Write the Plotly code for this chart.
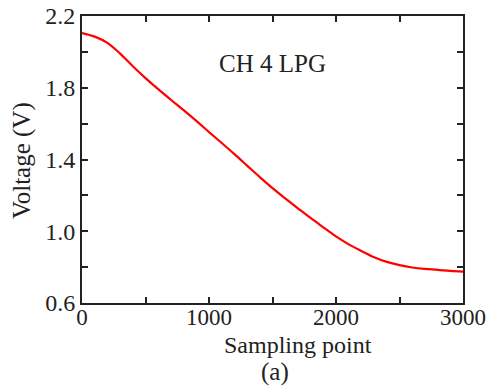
import plotly.graph_objects as go

sampling_point = [0, 100, 200, 300, 400, 500, 600, 700, 800, 900, 1000,
                  1100, 1200, 1300, 1400, 1500, 1600, 1700, 1800, 1900, 2000,
                  2100, 2200, 2300, 2400, 2500, 2600, 2700, 2800, 2900, 3000]
voltage = [2.105, 2.085, 2.050, 1.990, 1.920, 1.854, 1.792, 1.733, 1.675, 1.615, 1.553,
           1.492, 1.430, 1.366, 1.302, 1.240, 1.183, 1.128, 1.075, 1.022, 0.971,
           0.927, 0.890, 0.855, 0.829, 0.811, 0.798, 0.790, 0.785, 0.779, 0.775]

x_ticks = [0, 1000, 2000, 3000]
y_ticks = [0.6, 1.0, 1.4, 1.8, 2.2]
y_tick_labels = ["0.6", "1.0", "1.4", "1.8", "2.2"]

FONT = "Liberation Serif, Times New Roman, serif"
AX = "#222222"
TXT = "#222222"

fig = go.Figure()
fig.add_trace(go.Scatter(x=sampling_point, y=voltage, mode="lines",
                         line=dict(color="#ff0000", width=2.2, shape="spline", smoothing=1.0),
                         showlegend=False))

fig.update_layout(
    template="none",
    width=488, height=387,
    margin=dict(l=82, r=25, t=16, b=84, autoexpand=False),
    paper_bgcolor="white", plot_bgcolor="white",
    font=dict(family=FONT, size=24, color=TXT),
    xaxis=dict(range=[0, 3000], tickvals=x_ticks, ticktext=[str(v) for v in x_ticks],
               automargin=False, ticklabeloverflow="allow", ticklabelstandoff=-8,
               ticks="inside", ticklen=6, tickwidth=1.5, tickcolor=AX,
               showline=True, linecolor=AX, linewidth=2, mirror="ticks",
               showgrid=False, zeroline=False,
               minor=dict(tickvals=[500, 1500, 2500], ticks="inside", ticklen=6,
                          tickwidth=1.5, tickcolor=AX, showgrid=False),
               tickfont=dict(family=FONT, size=23, color=TXT)),
    yaxis=dict(range=[0.6, 2.2], tickvals=y_ticks, ticktext=y_tick_labels,
               automargin=False, ticklabeloverflow="allow",
               ticks="inside", ticklen=6, tickwidth=1.5, tickcolor=AX,
               showline=True, linecolor=AX, linewidth=2, mirror="ticks",
               showgrid=False, zeroline=False,
               minor=dict(tickvals=[0.8, 1.2, 1.6, 2.0], ticks="inside", ticklen=6,
                          tickwidth=1.5, tickcolor=AX, showgrid=False),
               tickfont=dict(family=FONT, size=24, color=TXT)),
    annotations=[
        dict(text="CH 4 LPG", xref="paper", yref="paper", x=0.501, y=0.836,
             xanchor="center", yanchor="middle",
             showarrow=False, font=dict(family=FONT, size=25, color=TXT)),
        dict(text="Sampling point", xref="paper", yref="paper", x=0.567, y=-0.147,
             xanchor="center", yanchor="middle",
             showarrow=False, font=dict(family=FONT, size=24, color=TXT)),
        dict(text="(a)", xref="paper", yref="paper", x=0.507, y=-0.241,
             xanchor="center", yanchor="middle",
             showarrow=False, font=dict(family=FONT, size=25, color=TXT)),
        dict(text="Voltage (V)", xref="paper", yref="paper", x=-0.157, y=0.495,
             xanchor="center", yanchor="middle",
             textangle=-90, showarrow=False,
             font=dict(family=FONT, size=25, color=TXT)),
    ],
)

fig.write_html("out.html", config={"displayModeBar": False},
               post_script="document.body.style.margin='0';")
